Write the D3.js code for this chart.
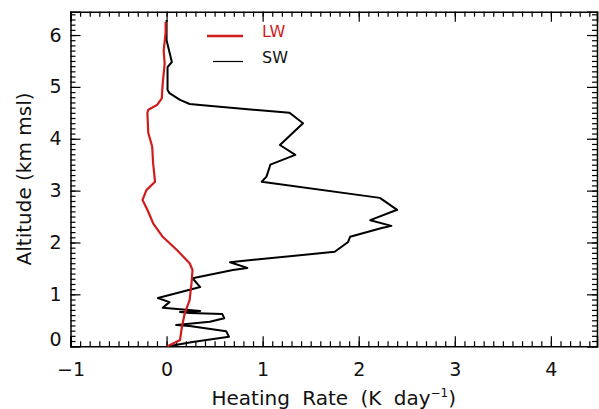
<!DOCTYPE html>
<html><head><meta charset="utf-8">
<script src="https://cdn.jsdelivr.net/npm/d3@7/dist/d3.min.js"></script>
<style>body{margin:0;background:#fff}svg{display:block}</style>
</head><body><svg id="c" width="599" height="409"></svg>
<script>
// ---- data ----
const xTicks = [-1, 0, 1, 2, 3, 4];
const yTicks = [0, 1, 2, 3, 4, 5, 6];
const seriesNames = ["LW", "SW"];
// SW (shortwave) heating rate, bottom to top
const swAlt = [0.00,0.08,0.18,0.29,0.39,0.41,0.47,0.54,0.62,0.64,0.66,0.68,0.74,0.85,0.93,1.14,1.31,1.47,1.51,1.62,1.82,2.01,2.11,2.28,2.32,2.43,2.63,2.86,3.17,3.27,3.50,3.69,3.88,4.30,4.50,4.65,4.67,4.75,4.88,4.94,5.38,5.48,5.90,6.29];
const swVal = [0.02,0.27,0.65,0.62,0.24,0.10,0.45,0.60,0.58,0.24,0.14,0.35,-0.04,0.03,-0.09,0.35,0.27,0.69,0.84,0.66,1.75,1.89,1.91,2.24,2.34,2.12,2.40,2.22,0.99,1.04,1.08,1.34,1.18,1.42,1.28,0.35,0.24,0.14,0.03,0.01,0.01,0.055,0.0,0.0];
// LW (longwave) heating rate, bottom to top
const lwAlt = [0.00,0.12,0.38,0.64,0.89,1.22,1.47,1.60,1.85,2.11,2.37,2.63,2.82,3.01,3.17,3.53,3.85,4.11,4.50,4.56,4.65,4.78,5.07,5.45,5.70,6.04,6.25];
const lwVal = [0.01,0.14,0.16,0.19,0.24,0.26,0.27,0.24,0.11,-0.04,-0.14,-0.20,-0.25,-0.21,-0.12,-0.14,-0.15,-0.19,-0.20,-0.19,-0.10,-0.05,-0.04,-0.02,-0.03,-0.01,-0.01];

const W = 599, H = 409;
const L = 70.5, R = 597, T = 11.7, B = 346.2;
const svg = d3.select("#c");
svg.append("rect").attr("width", W).attr("height", H).attr("fill", "#fff");

const x = d3.scaleLinear().domain([-1, 4.48]).range([L, R]);
const y = d3.scaleLinear().domain([0, 6.45]).range([B, T]);

const FONT = "'DejaVu Sans', sans-serif";
const minorX = d3.range(-1, 4.45, 0.1).map(v => +v.toFixed(2));
const minorY = d3.range(0, 6.45, 0.1).map(v => +v.toFixed(2));
const fmt = d => d < 0 ? "\u2212" + Math.abs(d) : String(d);

function styleAxis(g) {
  g.select(".domain").attr("stroke", "#000").attr("stroke-width", 1.5);
  g.selectAll(".tick line").attr("stroke", "#000").attr("stroke-width", 1.2);
  g.selectAll("text").attr("font-family", FONT).attr("font-size", 19).attr("fill", "#111");
}
// bottom
const gb = svg.append("g").attr("transform", `translate(0,${B})`)
  .call(d3.axisBottom(x).tickValues(xTicks).tickSize(-10).tickFormat(fmt));
styleAxis(gb);
gb.selectAll(".tick text").attr("y", 24).attr("dy", "0.32em");
svg.append("g").attr("transform", `translate(0,${B})`)
  .call(d3.axisBottom(x).tickValues(minorX).tickSize(-5).tickFormat(""))
  .call(styleAxis).select(".domain").remove();
// top
svg.append("g").attr("transform", `translate(0,${T})`)
  .call(d3.axisTop(x).tickValues(xTicks).tickSize(-10).tickFormat(""))
  .call(styleAxis);
svg.append("g").attr("transform", `translate(0,${T})`)
  .call(d3.axisTop(x).tickValues(minorX).tickSize(-5).tickFormat(""))
  .call(styleAxis).select(".domain").remove();
// left
const gl = svg.append("g").attr("transform", `translate(${L},0)`)
  .call(d3.axisLeft(y).tickValues(yTicks).tickSize(-10).tickFormat(fmt));
styleAxis(gl);
gl.selectAll(".tick text").attr("x", -9).attr("dy", d => d === 0 ? "-0.05em" : "0.32em");
svg.append("g").attr("transform", `translate(${L},0)`)
  .call(d3.axisLeft(y).tickValues(minorY).tickSize(-5).tickFormat(""))
  .call(styleAxis).select(".domain").remove();
// right
svg.append("g").attr("transform", `translate(${R},0)`)
  .call(d3.axisRight(y).tickValues(yTicks).tickSize(-10).tickFormat(""))
  .call(styleAxis);
svg.append("g").attr("transform", `translate(${R},0)`)
  .call(d3.axisRight(y).tickValues(minorY).tickSize(-5).tickFormat(""))
  .call(styleAxis).select(".domain").remove();

// lines
const line = d3.line().x(d => x(d[0])).y(d => y(d[1]));
const sw = swVal.map((v, i) => [v, swAlt[i]]);
const lw = lwVal.map((v, i) => [v, lwAlt[i]]);
svg.append("path").datum(sw).attr("d", line).attr("fill", "none")
  .attr("stroke", "#000").attr("stroke-width", 2).attr("stroke-linejoin", "round");
svg.append("path").datum(lw).attr("d", line).attr("fill", "none")
  .attr("stroke", "#d01c1c").attr("stroke-width", 2.2).attr("stroke-linejoin", "round");

// legend
const leg = svg.append("g");
leg.append("line").attr("x1", 207).attr("x2", 243).attr("y1", 36).attr("y2", 36)
  .attr("stroke", "#d01c1c").attr("stroke-width", 2.5);
leg.append("line").attr("x1", 213).attr("x2", 243).attr("y1", 61.5).attr("y2", 61.5)
  .attr("stroke", "#000").attr("stroke-width", 1.2);
leg.append("text").attr("x", 262).attr("y", 37).text(seriesNames[0])
  .attr("font-family", FONT).attr("font-size", 16).attr("fill", "#d01c1c");
leg.append("text").attr("x", 262).attr("y", 63).text(seriesNames[1])
  .attr("font-family", FONT).attr("font-size", 16).attr("fill", "#111");

// axis titles
const xt = svg.append("text").attr("x", (L + R) / 2).attr("y", 405).attr("text-anchor", "middle")
  .attr("font-family", FONT).attr("font-size", 20).attr("fill", "#111").attr("word-spacing", 6);
xt.append("tspan").text("Heating Rate (K day");
xt.append("tspan").text("\u22121").attr("font-size", 12).attr("dy", -8);
xt.append("tspan").text(")").attr("dy", 8);
svg.append("text").attr("transform", `translate(31,${(T + B) / 2}) rotate(-90)`)
  .attr("text-anchor", "middle").attr("font-family", FONT).attr("font-size", 20)
  .attr("fill", "#111").text("Altitude (km msl)");
</script></body></html>
